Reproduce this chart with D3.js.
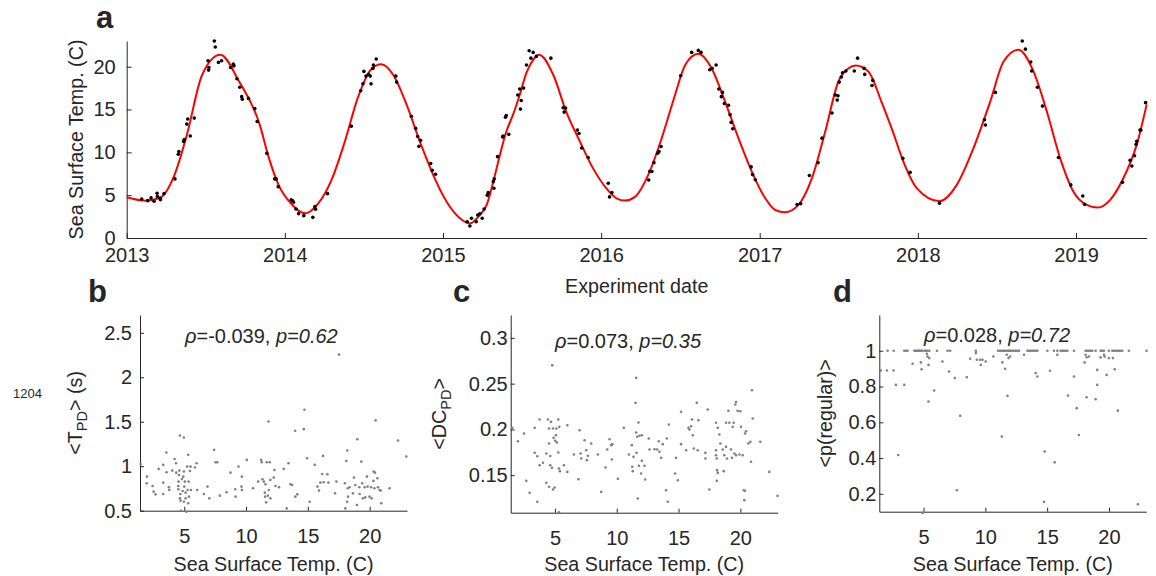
<!DOCTYPE html>
<html>
<head>
<meta charset="utf-8">
<script src="https://cdn.jsdelivr.net/npm/d3@7"></script>
<style>
  body { margin: 0; background: #fff; }
  svg text { font-family: "Liberation Sans", Arial, sans-serif; fill: #262626; white-space: pre; }
</style>
</head>
<body>
<div id="chart"></div>
<script>
// ---- data ----

// panel a: fitted seasonal curve, [decimal year, SST]
const fitCurve = [
  [2013.0, 4.76], [2013.12, 4.35], [2013.21, 4.7], [2013.305, 7.5], [2013.38, 12.0], [2013.476, 19.0],
  [2013.592, 21.4], [2013.71, 18.3], [2013.84, 13.3], [2013.9, 9.3], [2013.96, 6.2], [2014.04, 4.0],
  [2014.13, 2.88], [2014.21, 4.0], [2014.3, 7.0], [2014.38, 11.3], [2014.46, 16.3], [2014.55, 19.8],
  [2014.61, 20.3], [2014.685, 19.06], [2014.77, 15.56], [2014.853, 11.3], [2014.938, 7.37], [2015.022, 4.25],
  [2015.107, 2.3], [2015.17, 1.7], [2015.233, 2.69], [2015.276, 3.86], [2015.318, 6.58], [2015.36, 9.7],
  [2015.4, 12.4], [2015.443, 14.4], [2015.485, 16.7], [2015.528, 19.3], [2015.57, 20.8], [2015.608, 21.4],
  [2015.697, 19.06], [2015.78, 14.7], [2015.865, 11.3], [2015.95, 8.1], [2016.033, 5.8], [2016.097, 4.64],
  [2016.15, 4.37], [2016.213, 4.8], [2016.297, 7.37], [2016.382, 11.66], [2016.466, 16.7], [2016.53, 20.2],
  [2016.613, 21.5], [2016.697, 19.8], [2016.782, 15.9], [2016.866, 11.66], [2016.95, 7.76], [2017.035, 4.64],
  [2017.098, 3.27], [2017.16, 3.0], [2017.245, 3.86], [2017.33, 6.98], [2017.414, 12.4], [2017.498, 18.3],
  [2017.56, 19.8], [2017.607, 20.15], [2017.687, 19.45], [2017.77, 15.9], [2017.84, 12.5], [2017.909, 8.9],
  [2017.994, 5.8], [2018.137, 4.3], [2018.246, 6.2], [2018.352, 10.5], [2018.457, 15.9], [2018.542, 20.6],
  [2018.636, 21.98], [2018.731, 19.45], [2018.815, 14.8], [2018.9, 9.3], [2018.984, 5.4], [2019.068, 3.86],
  [2019.138, 3.55], [2019.216, 4.45], [2019.3, 7.0], [2019.384, 10.9], [2019.447, 15.6]
];

// panel a: measured SST per experiment, [decimal year, SST]
const sstSamples = [
  [2013.095, 4.56], [2013.133, 4.36], [2013.154, 4.68], [2013.173, 4.29], [2013.192, 5.23], [2013.194, 4.84],
  [2013.21, 4.64], [2013.214, 4.48], [2013.236, 5.18], [2013.305, 6.9], [2013.326, 9.78], [2013.33, 10.1],
  [2013.36, 11.26], [2013.364, 11.5], [2013.38, 13.3], [2013.386, 13.9], [2013.402, 11.9], [2013.427, 14.0],
  [2013.514, 20.7], [2013.52, 19.9], [2013.518, 19.6], [2013.554, 23.0], [2013.56, 22.3], [2013.58, 20.5],
  [2013.6, 20.7], [2013.657, 19.9], [2013.674, 20.3], [2013.678, 20.1], [2013.697, 18.6], [2013.715, 17.6],
  [2013.727, 16.5], [2013.731, 16.2], [2013.77, 16.3], [2013.81, 15.1], [2013.825, 13.6], [2013.886, 9.9],
  [2013.936, 6.9], [2013.945, 6.9], [2013.958, 5.98], [2014.04, 4.45], [2014.05, 4.33], [2014.055, 4.17],
  [2014.07, 3.39], [2014.087, 2.84], [2014.12, 2.61], [2014.177, 2.41], [2014.19, 3.66], [2014.194, 3.35],
  [2014.27, 5.18], [2014.42, 13.06], [2014.48, 17.2], [2014.494, 18.0], [2014.5, 19.45], [2014.513, 18.9],
  [2014.53, 19.1], [2014.545, 18.0], [2014.54, 18.9], [2014.557, 19.8], [2014.56, 20.2], [2014.578, 20.9],
  [2014.702, 18.9], [2014.707, 18.2], [2014.8, 14.2], [2014.827, 12.8], [2014.84, 11.85], [2014.858, 11.4],
  [2014.848, 10.7], [2014.922, 8.7], [2014.932, 7.9], [2014.953, 7.45], [2015.153, 1.9], [2015.17, 1.4],
  [2015.18, 2.3], [2015.21, 1.9], [2015.22, 2.68], [2015.233, 2.83], [2015.248, 2.3], [2015.26, 3.38],
  [2015.28, 5.0], [2015.286, 5.3], [2015.318, 6.58], [2015.324, 6.9], [2015.322, 5.8], [2015.345, 9.5],
  [2015.377, 11.8], [2015.38, 11.9], [2015.416, 12.1], [2015.395, 14.1], [2015.4, 14.3], [2015.473, 16.7],
  [2015.485, 17.4], [2015.51, 17.5], [2015.495, 16.06], [2015.49, 15.05], [2015.528, 20.2], [2015.545, 21.87],
  [2015.556, 21.0], [2015.57, 21.67], [2015.59, 21.2], [2015.682, 21.0], [2015.76, 15.2], [2015.766, 14.7],
  [2015.775, 15.17], [2015.85, 12.6], [2015.86, 12.2], [2015.877, 10.5], [2015.918, 9.4], [2016.045, 6.4],
  [2016.053, 4.8], [2016.068, 5.3], [2016.3, 6.78], [2016.307, 7.8], [2016.32, 7.76], [2016.333, 8.8],
  [2016.357, 9.9], [2016.365, 10.1], [2016.378, 10.68], [2016.502, 18.95], [2016.571, 21.67], [2016.613, 21.9],
  [2016.63, 21.67], [2016.685, 19.65], [2016.7, 19.8], [2016.725, 20.2], [2016.742, 17.4], [2016.765, 17.0],
  [2016.758, 16.5], [2016.777, 15.7], [2016.803, 15.5], [2016.813, 14.4], [2016.82, 13.5], [2016.83, 12.75],
  [2016.946, 8.3], [2016.955, 7.4], [2016.972, 6.8], [2017.236, 3.9], [2017.259, 4.0], [2017.314, 7.3],
  [2017.369, 8.8], [2017.394, 11.66], [2017.457, 14.6], [2017.478, 16.7], [2017.49, 16.1], [2017.495, 16.6],
  [2017.503, 18.2], [2017.516, 18.8], [2017.524, 19.3], [2017.545, 19.5], [2017.598, 19.5], [2017.619, 21.0],
  [2017.66, 19.8], [2017.664, 19.1], [2017.715, 18.4], [2017.71, 17.8], [2017.905, 9.3], [2017.951, 7.66],
  [2018.137, 4.06], [2018.421, 13.8], [2018.427, 13.2], [2018.49, 17.0], [2018.66, 23.0], [2018.68, 22.05],
  [2018.714, 20.55], [2018.72, 19.5], [2018.756, 17.6], [2018.788, 15.4], [2018.889, 9.4], [2018.967, 6.2],
  [2019.043, 4.9], [2019.054, 3.93], [2019.294, 6.5], [2019.342, 9.08], [2019.353, 8.4], [2019.37, 9.6],
  [2019.38, 10.95], [2019.384, 11.3], [2019.405, 12.6], [2019.41, 12.6], [2019.44, 15.8]
];

// panel b: [SST, <T_PD> (s)]
const periodData = [
  [1.47,1.026],[1.98,0.883],[1.96,0.808],[2.44,0.778],[2.52,0.714],[2.68,0.684],[2.93,0.97],[3.30,1.015],
  [3.30,0.816],[3.30,0.688],[3.55,1.154],[3.57,0.932],[3.76,0.763],[3.79,0.733],[4.03,0.951],[4.22,1.082],
  [4.33,1.034],[4.35,0.928],[4.52,0.778],[4.52,0.741],[4.54,0.827],[4.57,0.902],[4.60,0.951],[4.65,1.346],
  [4.65,0.639],[4.68,0.688],[4.70,0.613],[4.73,0.50],[4.81,0.857],[4.87,0.722],[4.97,1.323],[4.92,0.883],
  [4.97,0.94],[4.97,0.60],[5.0,0.771],[5.05,0.827],[5.11,0.703],[5.11,0.639],[5.19,0.489],[5.24,0.996],
  [5.27,0.733],[5.32,0.583],[5.32,1.128],[5.35,0.827],[5.38,0.658],[5.46,0.947],[5.51,0.996],[5.54,0.733],
  [5.86,0.985],[6.0,1.034],[6.05,0.733],[6.59,0.688],[6.88,0.771],[7.02,0.639],[7.42,1.184],[7.53,1.045],
  [7.67,1.045],[7.88,0.669],[8.42,0.707],[8.74,0.928],[9.15,0.658],[9.12,0.741],[9.39,0.996],[9.63,0.771],
  [9.66,0.883],[9.66,0.733],[10.06,1.071],[10.57,0.752],[10.98,0.827],[11.22,1.071],[11.27,1.045],[11.33,0.853],
  [11.44,0.827],[11.52,0.703],[11.54,0.658],[11.57,0.797],[11.62,0.594],[11.68,1.045],[11.76,0.669],[11.81,1.503],
  [11.84,0.733],[11.92,1.045],[11.97,0.639],[11.97,0.846],[12.24,0.872],[12.30,0.958],[12.38,0.778],[12.67,0.763],
  [13.05,0.97],[13.29,0.526],[13.43,1.034],[13.59,0.797],[13.72,0.789],[13.97,1.398],[13.99,0.658],[14.15,0.684],
  [14.67,1.417],[14.72,1.635],[14.94,1.09],[15.15,0.601],[15.55,1.015],[15.77,0.771],[15.90,0.726],[16.01,0.816],
  [16.15,0.913],[16.23,1.116],[16.28,0.819],[16.58,0.910],[16.66,0.816],[17.20,0.695],[17.31,0.827],[17.52,2.255],
  [18.0,0.808],[18.03,0.526],[18.11,1.06],[18.17,0.601],[18.19,1.176],[18.22,0.752],[18.25,0.658],[18.38,0.763],
  [18.65,0.695],[18.73,0.872],[18.84,0.789],[18.97,0.564],[19.0,1.304],[19.16,0.763],[19.19,0.688],[19.32,1.052],
  [19.40,0.808],[19.46,0.639],[19.59,0.763],[19.65,0.650],[19.78,0.883],[19.83,0.771],[19.99,0.658],[20.11,0.763],
  [20.16,0.639],[20.30,0.835],[20.32,0.940],[20.38,0.752],[20.43,0.928],[20.48,1.515],[20.62,0.864],[20.67,0.763],
  [20.81,0.733],[20.89,0.726],[20.94,0.583],[21.61,0.752],[22.29,1.289],[22.96,1.109]
];

// panel c: [SST, <DC_PD>]
const dutyData = [
  [1.55,0.2017],[2.01,0.187],[2.50,0.1955],[2.68,0.1438],[2.95,0.1307],[3.36,0.2017],[3.36,0.1744],[3.57,0.1209],
  [3.57,0.1707],[3.76,0.2108],[3.76,0.1609],[4.03,0.1635],[4.30,0.1416],[4.30,0.1737],[4.43,0.2108],[4.52,0.1373],
  [4.52,0.1846],[4.52,0.2010],[4.62,0.1609],[4.62,0.171],[4.68,0.2082],[4.76,0.158],[4.78,0.27],[4.84,0.1343],
  [4.84,0.2010],[4.89,0.1908],[4.97,0.1365],[5.03,0.1875],[5.08,0.1937],[5.11,0.2010],[5.16,0.1857],[5.27,0.2108],
  [5.27,0.1748],[5.32,0.1573],[5.32,0.1095],[5.35,0.2028],[5.40,0.1544],[5.73,0.1609],[6.0,0.1536],[6.0,0.2046],
  [6.53,0.1726],[6.91,0.1456],[6.99,0.1991],[7.07,0.1737],[7.13,0.1682],[7.40,0.1882],[7.53,0.1773],[7.58,0.1664],
  [7.67,0.1711],[7.93,0.1846],[8.47,0.1726],[8.74,0.1318],[9.09,0.1584],[9.23,0.178],[9.42,0.1893],[9.55,0.1828],
  [9.60,0.1671],[9.63,0.1839],[10.09,0.146],[10.57,0.2017],[10.98,0.1726],[11.22,0.1828],[11.25,0.1591],[11.30,0.1544],
  [11.35,0.170],[11.52,0.229],[11.57,0.2563],[11.57,0.1966],[11.60,0.1744],[11.65,0.1919],[11.70,0.1245],[11.76,0.2075],
  [11.79,0.1602],[11.84,0.1930],[11.97,0.1518],[12.03,0.1657],[12.03,0.1937],[12.24,0.1602],[12.30,0.1453],[12.59,0.190],
  [12.65,0.178],[13.05,0.1784],[13.27,0.178],[13.40,0.1871],[13.45,0.1755],[13.59,0.1689],[13.72,0.1839],[13.99,0.1336],
  [14.05,0.190],[14.13,0.1209],[14.21,0.2053],[14.72,0.1518],[14.80,0.1689],[14.94,0.1445],[15.20,0.2192],[15.20,0.1839],
  [15.61,0.1773],[15.80,0.2017],[15.88,0.1999],[16.01,0.2035],[16.09,0.2108],[16.15,0.1937],[16.23,0.1791],[16.47,0.229],
  [16.55,0.1773],[16.60,0.210],[17.36,0.2217],[17.17,0.1744],[17.17,0.1682],[17.49,0.1343],[18.03,0.2072],[18.03,0.1773],
  [18.03,0.1718],[18.09,0.1682],[18.09,0.1438],[18.11,0.1555],[18.17,0.1525],[18.17,0.2017],[18.30,0.1944],[18.38,0.1846],
  [18.57,0.178],[18.65,0.1544],[18.70,0.1718],[18.84,0.1809],[18.84,0.2072],[18.92,0.1682],[19.03,0.2203],[19.11,0.2072],
  [19.24,0.178],[19.32,0.1689],[19.38,0.2028],[19.46,0.2072],[19.51,0.1737],[19.59,0.2272],[19.65,0.230],[19.65,0.1718],
  [19.78,0.2203],[19.92,0.1726],[20.0,0.2199],[20.05,0.2028],[20.19,0.1718],[20.27,0.1336],[20.32,0.1227],[20.38,0.1329],
  [20.38,0.1955],[20.46,0.198],[20.65,0.1846],[20.81,0.1864],[20.86,0.1646],[20.94,0.2428],[21.0,0.2119],[21.61,0.1864],
  [22.34,0.1536],[23.01,0.1274]
];

// panel d: [SST, <p(regular)>]
const regularData = [
  [2.09,1],[2.58,1],[3.44,1],[3.57,1],[3.71,1],[4.25,1],[4.38,1],[4.46,1],[4.57,1],[4.65,1],[4.73,1],[4.84,1],
  [4.92,1],[5.11,1],[5.19,1],[5.32,1],[5.46,1],[6.08,1],[6.94,1],[7.15,1],[9.23,1],[11.03,1],[11.19,1],[11.33,1],
  [11.46,1],[11.57,1],[11.70,1],[11.84,1],[11.95,1],[12.05,1],[12.19,1],[12.32,1],[12.46,1],[12.59,1],[12.73,1],
  [13.4,1],[13.54,1],[13.67,1],[13.8,1],[13.94,1],[14.07,1],[14.21,1],[15.02,1],[15.55,1],[15.82,1],[16.09,1],
  [16.23,1],[16.36,1],[16.5,1],[16.63,1],[17.17,1],[18.11,1],[18.25,1],[18.38,1],[18.52,1],[18.65,1],[18.92,1],
  [19.32,1],[19.46,1],[19.59,1],[19.99,1],[20.27,1],[20.4,1],[20.54,1],[20.67,1],[20.81,1],[20.94,1],[21.07,1],
  [21.61,1],[23.04,1],
  [1.55,0.890],[2.04,0.890],[2.58,0.890],[2.77,0.809],[3.44,0.809],[2.95,0.417],[4.11,0.927],[4.78,0.935],
  [4.84,0.897],[4.92,0.093],[5.27,0.983],[5.32,0.968],[5.40,0.921],[5.40,0.716],[5.46,0.959],[5.86,0.778],
  [6.53,0.940],[7.07,0.884],[7.53,0.847],[7.69,0.220],[7.96,0.636],[8.50,0.852],[8.77,0.955],[9.23,0.987],
  [9.31,0.950],[9.58,0.950],[9.63,0.921],[9.77,0.950],[10.03,0.940],[10.65,0.968],[11.33,0.520],[11.38,0.935],
  [11.60,0.899],[11.73,0.978],[11.79,0.748],[11.87,0.959],[12.0,0.968],[13.13,0.978],[14.07,0.875],[14.21,0.856],
  [14.80,0.436],[14.75,0.155],[15.23,0.888],[15.61,0.376],[15.82,0.978],[16.69,0.750],[17.17,0.856],[17.39,0.679],
  [17.57,0.529],[18.03,0.935],[18.11,0.978],[18.19,0.740],[18.19,0.964],[18.38,0.968],[18.92,0.729],[19.05,0.893],
  [19.05,0.809],[19.32,0.963],[19.59,0.978],[19.65,0.968],[19.81,0.865],[19.99,0.959],[20.32,0.959],[20.46,0.897],
  [20.72,0.665],[22.34,0.142]
];

const yearTicks = [2013, 2014, 2015, 2016, 2017, 2018, 2019];
const sstTicks = [0, 5, 10, 15, 20];
const sstAxisTicks = [5, 10, 15, 20];
const periodTicks = [0.5, 1, 1.5, 2, 2.5];
const dutyTicks = [0.15, 0.2, 0.25, 0.3];
const regularTicks = [0.2, 0.4, 0.6, 0.8, 1];
const stats = { b: ["-0.039", "0.62"], c: ["0.073", "0.35"], d: ["0.028", "0.72"] };

// ---- drawing ----
const W = 1156, H = 576;
const ink = "#262626";
const tickFont = 20, labelFont = 19.7;
const svg = d3.select("#chart").append("svg").attr("width", W).attr("height", H);

function decToDate(y) {
  const yr = Math.floor(y);
  const a = new Date(yr, 0, 1), b = new Date(yr + 1, 0, 1);
  return new Date(+a + (y - yr) * (b - a));
}

function styleAxis(g) {
  g.select(".domain").attr("stroke", ink).attr("stroke-width", 1);
  g.selectAll(".tick line").attr("stroke", ink);
  g.selectAll(".tick text").attr("font-size", tickFont).attr("fill", ink)
    .style("font-family", '"Liberation Sans", Arial, sans-serif');
}

function panelLetter(t, x, y) {
  svg.append("text").attr("x", x).attr("y", y).attr("font-size", 31).attr("font-weight", "bold")
    .attr("fill", "#000").text(t);
}

// panel a
(function () {
  const left = 126.7, right = 1146.7, top = 41, bottom = 238;
  const x = d3.scaleTime().domain([decToDate(2013), decToDate(2019.447)]).range([left, right]);
  const y = d3.scaleLinear().domain([0, 23]).range([bottom, top]);

  svg.append("g").attr("transform", `translate(0,${bottom})`)
    .call(d3.axisBottom(x).tickValues(yearTicks.map(decToDate)).tickFormat(d3.timeFormat("%Y"))
      .tickSizeInner(-5).tickSizeOuter(0).tickPadding(10))
    .call(styleAxis);
  svg.append("g").attr("transform", `translate(${left},0)`)
    .call(d3.axisLeft(y).tickValues(sstTicks).tickSizeInner(-5).tickSizeOuter(0).tickPadding(11))
    .call(styleAxis);

  const line = d3.line().x(d => x(decToDate(d[0]))).y(d => y(d[1])).curve(d3.curveMonotoneX);
  svg.append("path").datum(fitCurve).attr("d", line)
    .attr("fill", "none").attr("stroke", "#ff0000").attr("stroke-width", 2);

  svg.append("g").selectAll("circle").data(sstSamples).join("circle")
    .attr("cx", d => x(decToDate(d[0]))).attr("cy", d => y(d[1])).attr("r", 1.8).attr("fill", "#000");

  svg.append("text").attr("transform", `translate(83,${(top + bottom) / 2}) rotate(-90)`)
    .attr("text-anchor", "middle").attr("font-size", labelFont).text("Sea Surface Temp. (C)");
  svg.append("text").attr("x", (left + right) / 2).attr("y", 293).attr("text-anchor", "middle")
    .attr("font-size", labelFont).text("Experiment date");
  panelLetter("a", 96, 28);
})();

// panels b-d
function scatterPanel(o) {
  const x = d3.scaleLinear().domain([1.42, 23.02]).range([o.left, o.left + 267]);
  const y = d3.scaleLinear().domain(o.yDomain).range([o.bottom, o.top]);

  svg.append("g").attr("transform", `translate(0,${o.bottom})`)
    .call(d3.axisBottom(x).tickValues(sstAxisTicks).tickSizeInner(-4).tickSizeOuter(0).tickPadding(18))
    .call(styleAxis);
  svg.append("g").attr("transform", `translate(${o.left},0)`)
    .call(d3.axisLeft(y).tickValues(o.yTicks).tickFormat(d => String(d))
      .tickSizeInner(-4).tickSizeOuter(0).tickPadding(o.yPad))
    .call(styleAxis);

  svg.append("g").selectAll("circle").data(o.data).join("circle")
    .attr("cx", d => x(d[0])).attr("cy", d => y(d[1])).attr("r", 1.3).attr("fill", "#808080");

  const note = svg.append("text").attr("x", o.noteX).attr("y", o.noteY).attr("font-size", 20);
  note.append("tspan").attr("font-style", "italic").text("\u03C1");
  note.append("tspan").text("=" + o.stat[0] + ", ");
  note.append("tspan").attr("font-style", "italic").text("p=" + o.stat[1]);

  const yl = svg.append("text").attr("transform", `translate(${o.ylabX},${(o.top + o.bottom) / 2}) rotate(-90)`)
    .attr("text-anchor", "middle").attr("font-size", labelFont);
  o.ylab(yl);

  svg.append("text").attr("x", o.left + 267 / 2).attr("y", 571).attr("text-anchor", "middle")
    .attr("font-size", labelFont).text("Sea Surface Temp. (C)");
  panelLetter(o.letter, o.letterX, 302);
}

scatterPanel({
  left: 140, top: 315, bottom: 510.7, yDomain: [0.5, 2.7], yTicks: periodTicks, yPad: 8,
  data: periodData, stat: stats.b, noteX: 185, noteY: 343, ylabX: 82, letter: "b", letterX: 88,
  ylab: t => {
    t.append("tspan").text("<T");
    t.append("tspan").attr("font-size", 14.5).attr("dy", 5).text("PD");
    t.append("tspan").attr("dy", -5).text("> (s)");
  }
});
scatterPanel({
  left: 510.7, top: 315, bottom: 512.7, yDomain: [0.109, 0.325], yTicks: dutyTicks, yPad: 3,
  data: dutyData, stat: stats.c, noteX: 555, noteY: 348, ylabX: 446, letter: "c", letterX: 453,
  ylab: t => {
    t.append("tspan").text("<DC");
    t.append("tspan").attr("font-size", 14.5).attr("dy", 5).text("PD");
    t.append("tspan").attr("dy", -5).text(">");
  }
});
scatterPanel({
  left: 879.3, top: 315, bottom: 511.7, yDomain: [0.1, 1.2], yTicks: regularTicks, yPad: 3,
  data: regularData, stat: stats.d, noteX: 924, noteY: 342, ylabX: 832, letter: "d", letterX: 833,
  ylab: t => t.text("<p(regular)>")
});

svg.append("text").attr("x", 13).attr("y", 398).attr("font-size", 13).text("1204");
</script>
</body>
</html>
